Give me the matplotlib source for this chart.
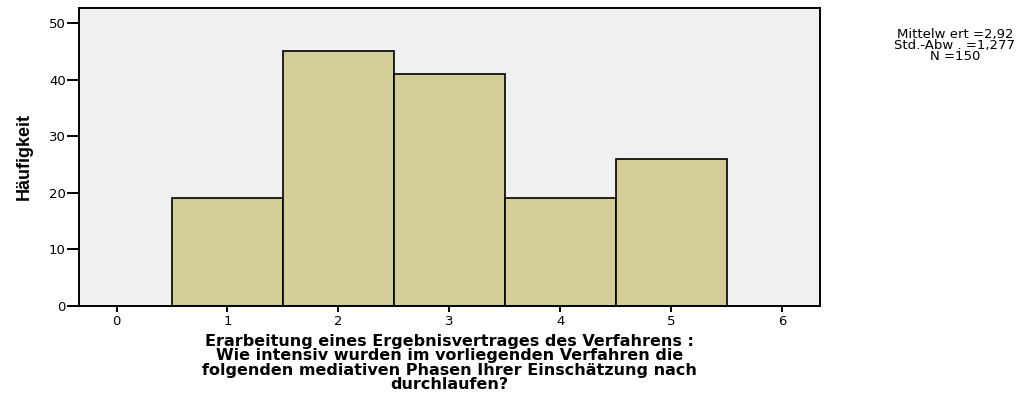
import matplotlib
matplotlib.use("Agg")
import matplotlib.pyplot as plt

# Häufigkeiten je Antwortstufe
stufen = [1, 2, 3, 4, 5]
haeufigkeit = [19, 45, 41, 19, 26]
xticks = [0, 1, 2, 3, 4, 5, 6]
yticks = [0, 10, 20, 30, 40, 50]
statistik = "Mittelw ert =2,92\nStd.-Abw . =1,277\nN =150"
xtitel = ("Erarbeitung eines Ergebnisvertrages des Verfahrens :\n"
          "Wie intensiv wurden im vorliegenden Verfahren die\n"
          "folgenden mediativen Phasen Ihrer Einschätzung nach\n"
          "durchlaufen?")

plt.rcParams['font.family'] = ['DejaVu Sans']

fig = plt.figure(figsize=(10.36, 3.94), dpi=100)
ax = fig.add_axes([79 / 1036, 88 / 394, 741 / 1036, 298 / 394])
ax.set_facecolor('#f0f0f0')

ax.bar(stufen, haeufigkeit, width=1.0, color='#d3ce97', edgecolor='black', linewidth=1.2)

ax.set_xlim(-0.338, 6.34)
ax.set_ylim(0, 52.65)
ax.set_xticks(xticks)
ax.set_yticks(yticks)
ax.tick_params(axis='both', direction='out', width=1.4, labelsize=9.5)
ax.tick_params(axis='y', length=9, pad=0.5)
ax.tick_params(axis='x', length=4.5, pad=2)
for s in ax.spines.values():
    s.set_linewidth(1.4)

ax.set_ylabel("Häufigkeit", family=['Liberation Sans Narrow', 'Liberation Sans'],
              fontsize=13, fontweight='bold', labelpad=12)
ax.set_xlabel(xtitel, fontsize=11.5, fontweight='bold', linespacing=0.96, labelpad=4)

fig.text(955 / 1036, 1 - 28 / 394, statistik, ha='center', va='top',
         fontsize=9.5, linespacing=0.78)

fig.savefig("out.png", dpi=100)
